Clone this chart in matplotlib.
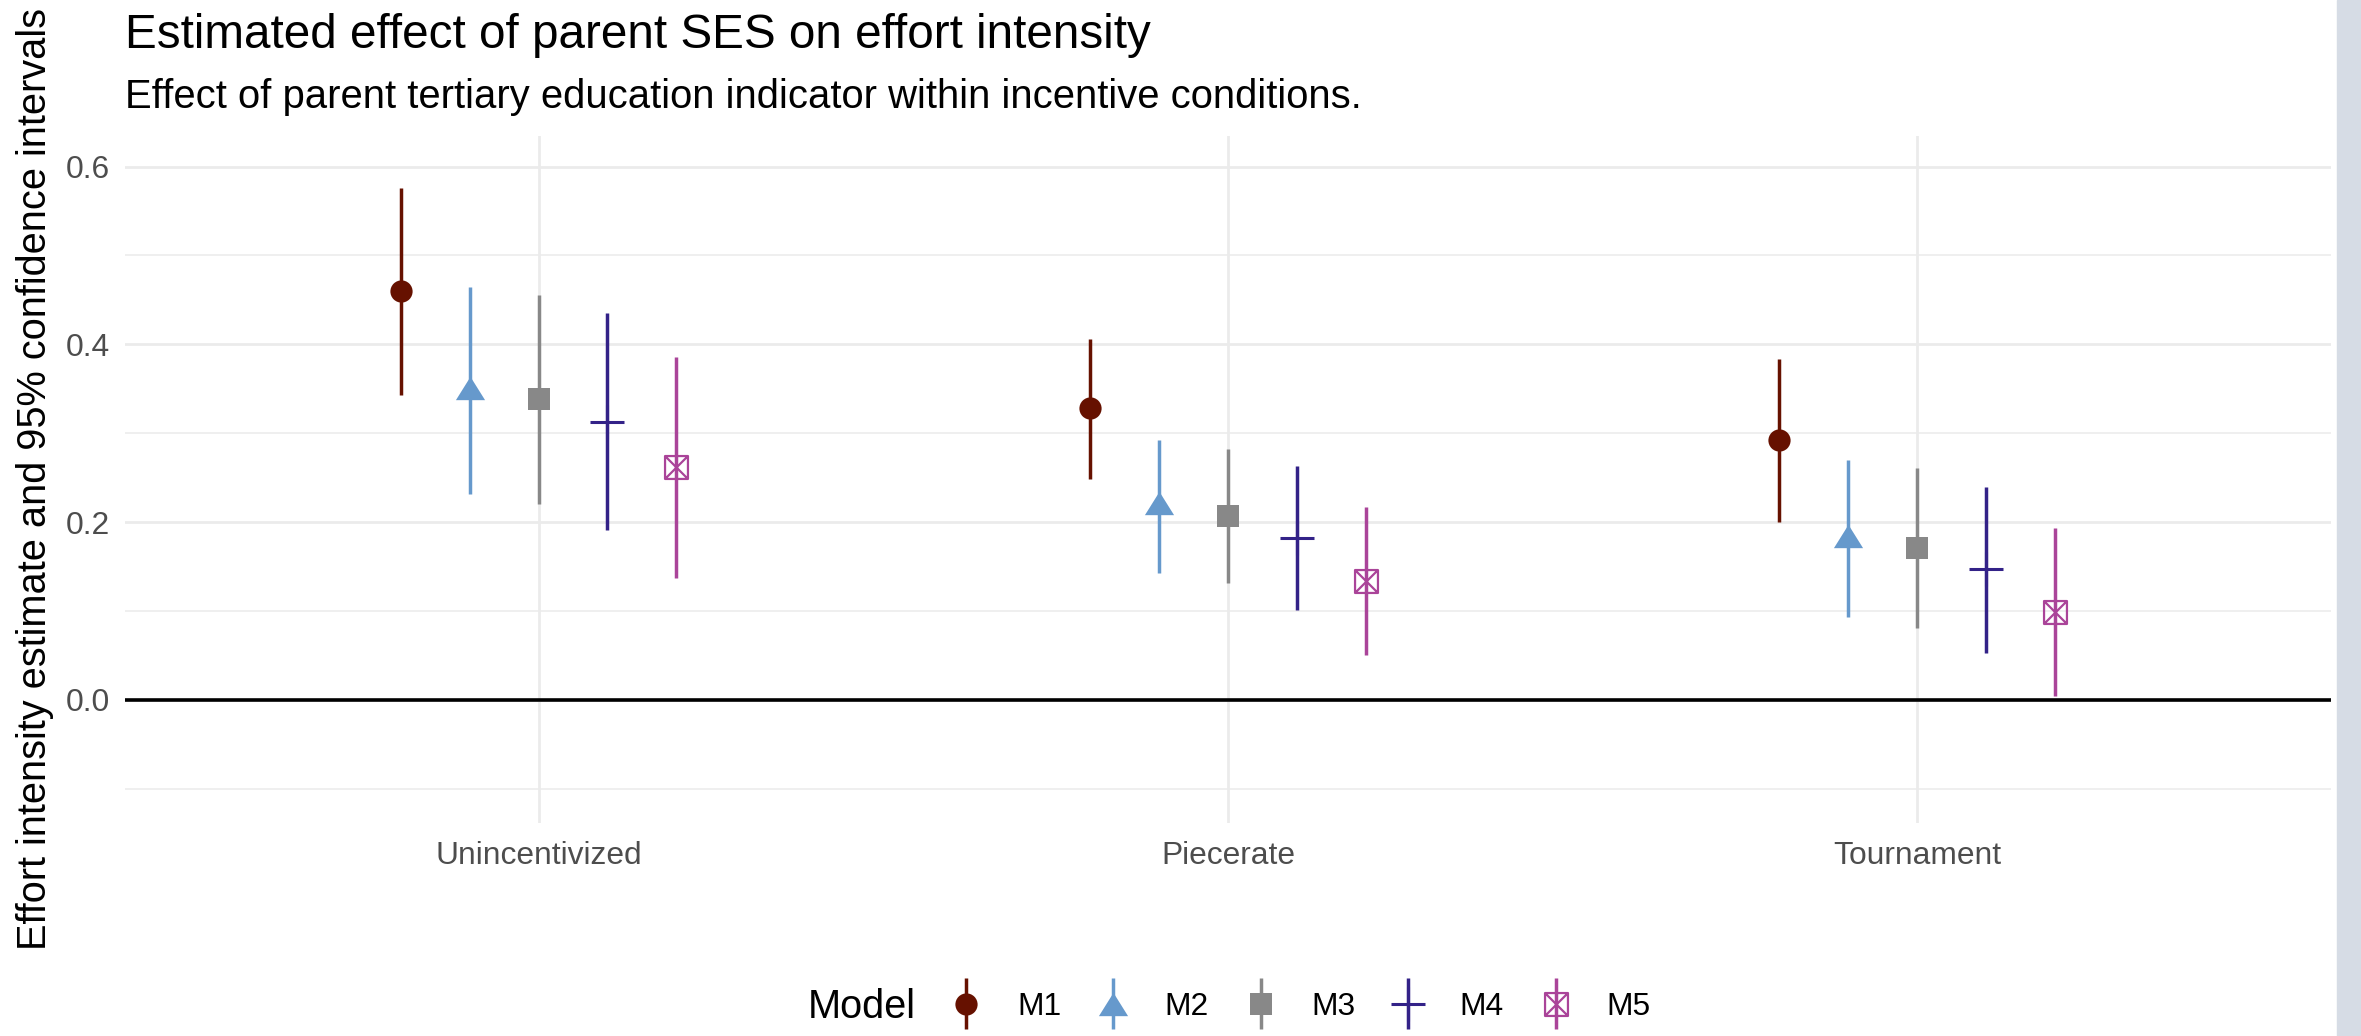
import numpy as np
import matplotlib.pyplot as plt
from matplotlib.path import Path
from matplotlib.patches import Rectangle
from matplotlib.container import ErrorbarContainer
from matplotlib.legend_handler import HandlerErrorbar
from matplotlib.ticker import MultipleLocator

plt.rcParams["font.family"] = ["Liberation Sans", "DejaVu Sans"]

# === Data ===
conditions = ["Unincentivized", "Piecerate", "Tournament"]
models = ["M1", "M2", "M3", "M4", "M5"]

est_m1 = [0.460, 0.328, 0.292]
est_m2 = [0.351, 0.221, 0.184]
est_m3 = [0.338, 0.207, 0.171]
est_m4 = [0.313, 0.182, 0.147]
est_m5 = [0.262, 0.134, 0.099]

lo_m1 = [0.343, 0.249, 0.200]
lo_m2 = [0.232, 0.143, 0.093]
lo_m3 = [0.220, 0.131, 0.081]
lo_m4 = [0.191, 0.101, 0.053]
lo_m5 = [0.137, 0.050, 0.004]

hi_m1 = [0.576, 0.406, 0.384]
hi_m2 = [0.465, 0.292, 0.270]
hi_m3 = [0.455, 0.282, 0.261]
hi_m4 = [0.435, 0.263, 0.240]
hi_m5 = [0.386, 0.217, 0.193]

estimates = [est_m1, est_m2, est_m3, est_m4, est_m5]
lowers = [lo_m1, lo_m2, lo_m3, lo_m4, lo_m5]
uppers = [hi_m1, hi_m2, hi_m3, hi_m4, hi_m5]

# === Styles ===
colors = ["#661100", "#6699CC", "#888888", "#332288", "#AA4499"]

tri = [(0, 0.8), (-1, -0.8), (1, -0.8)]
sq_cross = Path(
    [(-1, -1), (1, -1), (1, 1), (-1, 1), (-1, -1), (-1, -1), (1, 1), (-1, 1), (1, -1)],
    [Path.MOVETO, Path.LINETO, Path.LINETO, Path.LINETO, Path.CLOSEPOLY,
     Path.MOVETO, Path.LINETO, Path.MOVETO, Path.LINETO],
)
marker_styles = [
    dict(marker="o", markersize=16, markeredgewidth=0),
    dict(marker=tri, markersize=21, markeredgewidth=0),
    dict(marker="s", markersize=15.5, markeredgewidth=0),
    dict(marker="+", markersize=24, markeredgewidth=2.2),
    dict(marker=sq_cross, markersize=16.5, markeredgewidth=1.6, markerfacecolor="none"),
]

BASE = 28.6

# === Figure ===
fig = plt.figure(figsize=(23.61, 10.36), dpi=100)
ax = fig.add_axes([0.0529, 0.2056, 0.9344, 0.6636])

x = np.arange(len(conditions))
for i, name in enumerate(models):
    xs = x + (i - 2) * 0.1  # position_dodge(width = 0.5)
    est = np.array(estimates[i])
    yerr = [est - np.array(lowers[i]), np.array(uppers[i]) - est]
    ax.errorbar(
        xs, est, yerr=yerr, linestyle="none",
        color=colors[i], ecolor=colors[i], elinewidth=2.5, capsize=0,
        label=name, zorder=3, **marker_styles[i],
    )

ax.axhline(0, color="black", linewidth=2.6, zorder=2)

# === Axes styling (theme_minimal look) ===
ax.set_xlim(-0.6, 2.6)
ax.set_ylim(-0.1385, 0.635)
ax.set_xticks(x)
ax.set_xticklabels(conditions)
ax.yaxis.set_major_locator(MultipleLocator(0.2))
ax.yaxis.set_minor_locator(MultipleLocator(0.1))
ax.yaxis.set_major_formatter(plt.FuncFormatter(lambda v, p: f"{v:.1f}"))
ax.grid(True, which="major", color="#ebebeb", linewidth=2.0, zorder=0)
ax.grid(True, which="minor", axis="y", color="#ebebeb", linewidth=1.1, zorder=0)
ax.set_axisbelow(True)
for s in ax.spines.values():
    s.set_visible(False)
ax.tick_params(which="both", length=0, labelsize=BASE * 0.8, labelcolor="#4d4d4d")
ax.tick_params(axis="y", pad=11)
ax.tick_params(axis="x", pad=13)

# === Titles ===
fig.text(0.0529, 0.9537, "Estimated effect of parent SES on effort intensity",
         fontsize=BASE * 1.2, ha="left", va="baseline")
fig.text(0.0529, 0.8955, "Effect of parent tertiary education indicator within incentive conditions.",
         fontsize=BASE * 1.007, ha="left", va="baseline")
fig.text(0.0148, 0.5376, "Effort intensity estimate and 95% confidence intervals",
         fontsize=BASE, rotation=90, ha="center", va="center")

# === Legend ===
fig.text(808 / 2361, 1 - 1007 / 1036, "Model", fontsize=BASE, ha="left", va="center")
handles, labels = ax.get_legend_handles_labels()
fig.legend(
    handles, labels, loc="center left", bbox_to_anchor=(947 / 2361, 1 - 1007 / 1036),
    ncol=5, frameon=False, fontsize=BASE * 0.8, borderpad=0, borderaxespad=0,
    handlelength=1.2, handletextpad=1.0, columnspacing=1.05,
    handler_map={ErrorbarContainer: HandlerErrorbar(yerr_size=0.8)},
)

# light strip on the right edge
fig.patches.append(Rectangle((2337 / 2361, 0), 1 - 2337 / 2361, 1,
                             transform=fig.transFigure, color="#d6dce5", zorder=-1))

fig.savefig("out.png", dpi=100)
